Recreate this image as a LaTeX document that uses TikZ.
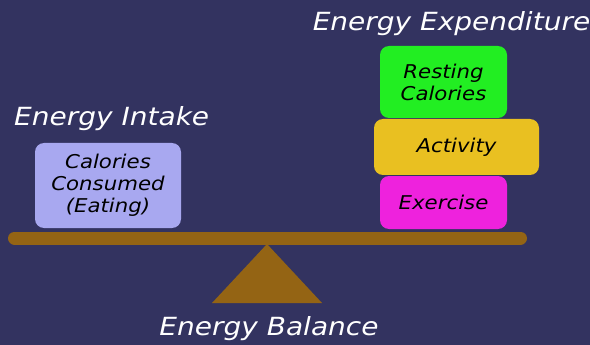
\documentclass[tikz,border=0pt]{standalone}
\usepackage{fontspec}
\setmainfont[FakeStretch=1.12]{DejaVu Sans}
\definecolor{bg}{HTML}{333360}
\definecolor{beam}{HTML}{946414}
\definecolor{lav}{HTML}{A8A8F0}
\definecolor{grn}{HTML}{22EE22}
\definecolor{gold}{HTML}{E9C021}
\definecolor{mag}{HTML}{EE22DD}
\begin{document}
\begin{tikzpicture}[x=1pt,y=-1pt,
  title/.style={text=white,font=\itshape\fontsize{25}{27}\selectfont,inner sep=0pt},
  blk/.style={rounded corners=9pt,draw=none,align=center,font=\itshape\fontsize{19}{22}\selectfont,text=black}]
\fill[bg] (0,0) rectangle (590,345);
\useasboundingbox (0,0) rectangle (590,345);
% beam
\draw[beam,line width=13pt,line cap=round] (14.5,238) coordinate (bl) -- (520.5,238) coordinate (br);
% fulcrum
\coordinate (apex) at (267,244);
\fill[beam] (apex) -- (322,303) coordinate (fr) -- (212,303) coordinate (fl) -- cycle;
% boxes
\node[blk,fill=lav,minimum width=146pt,minimum height=85pt] (cal) at (108,185.5) {Calories\\Consumed\\(Eating)};
\node[blk,fill=grn,minimum width=127pt,minimum height=72pt] (rest) at (443.5,82) {Resting\\Calories};
\node[blk,fill=gold,minimum width=165pt,minimum height=56pt] (act) at (456.5,147) {Activity};
\node[blk,fill=mag,minimum width=127pt,minimum height=53pt] (ex) at (443.5,202.5) {Exercise};
% titles
\node[title,anchor=west] (intake) at (14,119) {Energy Intake};
\node[title] (exp) at (451.5,24) {Energy Expenditure};
\node[title] (bal) at (269,329) {Energy Balance};
\end{tikzpicture}
\end{document}
